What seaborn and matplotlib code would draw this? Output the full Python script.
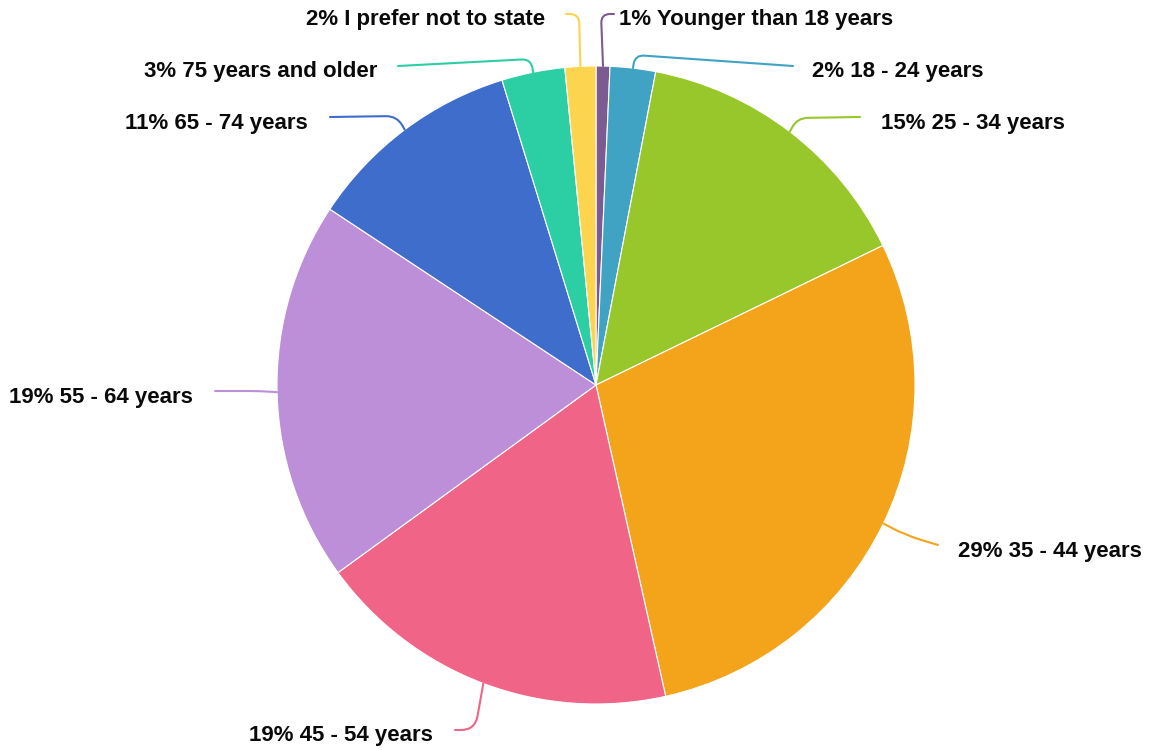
import numpy as np
import matplotlib
matplotlib.use("Agg")
import matplotlib.pyplot as plt
from matplotlib.path import Path
from matplotlib.patches import PathPatch
import seaborn as sns

# ---- data ----
categories = ["Younger than 18 years", "18 - 24 years", "25 - 34 years", "35 - 44 years",
              "45 - 54 years", "55 - 64 years", "65 - 74 years", "75 years and older",
              "I prefer not to state"]
shares = [0.7, 2.3, 14.8, 28.7, 18.5, 19.3, 10.95, 3.2, 1.56]
pct_labels = ["1%", "2%", "15%", "29%", "19%", "19%", "11%", "3%", "2%"]
colors = ["#7b5b91", "#40a3c4", "#97c72a", "#f4a41b", "#f06587",
          "#be8fd9", "#3e6dcb", "#2ccfa3", "#fdd44e"]

# ---- layout (pixel positions of leader elbows / ends / labels) ----
W, H = 1151, 750
CX, CY, R = 596, 385, 319
elbows = [(601, 14), (635, 55), (797, 118), (905, 535), (475, 730),
          (260, 391), (397, 116), (531, 59), (579, 14)]
ends = [(614, 14), (793, 66), (860, 117), (938, 545), (455, 730),
        (215, 391), (330, 117), (398, 66), (566, 14)]
label_pos = [(619, 19, "left"), (812, 71, "left"), (881, 123, "left"), (958, 551, "left"),
             (433, 735, "right"), (193, 397, "right"), (308, 123, "right"),
             (377, 71, "right"), (545, 19, "right")]

sns.set_theme(style="white")
plt.rcParams["font.family"] = ["Liberation Sans", "DejaVu Sans"]

fig = plt.figure(figsize=(W / 100, H / 100), dpi=100)
ax = fig.add_axes([0, 0, 1, 1])

wedges, _ = ax.pie(shares, colors=colors, startangle=90, counterclock=False,
                   radius=1.0, center=(0, 0), frame=False,
                   wedgeprops=dict(edgecolor="white", linewidth=0.8))
ax.set_xlim(-CX / R, (W - CX) / R)
ax.set_ylim((CY - H) / R, CY / R)
ax.set_aspect("auto")
ax.axis("off")


def px(p):
    return ((p[0] - CX) / R, (CY - p[1]) / R)


for w, col, k, e, (lx, ly, ha), pl, cat in zip(wedges, colors, elbows, ends, label_pos,
                                               pct_labels, categories):
    mid = np.deg2rad((w.theta1 + w.theta2) / 2)
    S = np.array([np.cos(mid), np.sin(mid)])
    K = np.array(px(k))
    E = np.array(px(e))
    r = 16 / R
    dSK = np.linalg.norm(S - K)
    dEK = np.linalg.norm(E - K)
    rr = min(r, 0.7 * dSK, 0.7 * dEK)
    A = K + (S - K) * rr / dSK if dSK > 0 else K
    B = K + (E - K) * rr / dEK if dEK > 0 else K
    verts = [S, A, K, B, E]
    codes = [Path.MOVETO, Path.LINETO, Path.CURVE3, Path.CURVE3, Path.LINETO]
    ax.add_patch(PathPatch(Path(verts, codes), facecolor="none", edgecolor=col,
                           linewidth=1.5, capstyle="round"))
    tx, ty = px((lx, ly))
    ax.text(tx, ty, f"{pl} {cat}", ha=ha, va="center", fontsize=16,
            fontweight="bold", color="#0a0a0a")

fig.savefig("out.png", dpi=100)
